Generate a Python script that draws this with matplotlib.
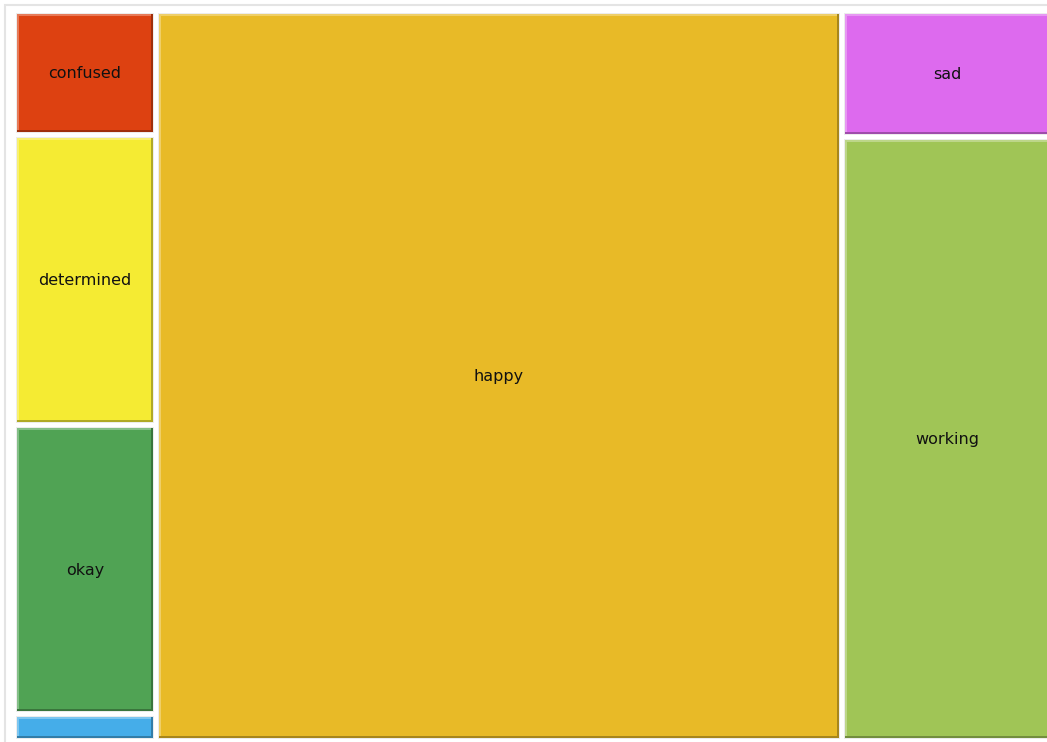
import matplotlib.pyplot as plt
from matplotlib.patches import Rectangle
import matplotlib.colors as mcolors
import numpy as np

# moods and their weights, grouped by column of the treemap
labels_left = ["confused", "determined", "okay", "calm"]
values_left = [3.5, 8.2, 8.2, 0.75]
colors_left = ["#DD4111", "#F5EB33", "#50A354", "#45ADE9"]

labels_mid = ["happy"]
values_mid = [100.0]
colors_mid = ["#E8BA27"]

labels_right = ["sad", "working"]
values_right = [5.3, 25.3]
colors_right = ["#DD6AEE", "#A0C556"]

columns = [
    (labels_left, values_left, colors_left),
    (labels_mid, values_mid, colors_mid),
    (labels_right, values_right, colors_right),
]

W, H = 1047, 742
fig = plt.figure(figsize=(W / 100, H / 100), dpi=100)
ax = fig.add_axes([0, 0, 1, 1])
ax.set_xlim(0, W)
ax.set_ylim(H, 0)
ax.axis("off")

# outer frame
ax.add_patch(Rectangle((5, 5), W + 20, H + 20, facecolor="white",
                       edgecolor="#e4e4e4", linewidth=1.5))

# treemap area
x0, y0 = 14, 11
tw, th = 1038, 730
pad = 3
bev = 2
total = sum(sum(c[1]) for c in columns)


def shade(c, f):
    r = np.array(mcolors.to_rgb(c))
    return tuple(r * f)


def tint(c, f):
    r = np.array(mcolors.to_rgb(c))
    return tuple(r + (1 - r) * f)


x = x0
for labs, vals, cols in columns:
    cw = tw * sum(vals) / total
    y = y0
    for lab, v, col in zip(labs, vals, cols):
        ch = th * v / sum(vals)
        rx, ry = x + pad, y + pad
        rw, rh = cw - 2 * pad, ch - 2 * pad
        # soft halo
        ax.add_patch(Rectangle((rx - 1, ry - 1), rw + 2, rh + 2,
                               facecolor="#ececec", edgecolor="none"))
        ax.add_patch(Rectangle((rx, ry), rw, rh, facecolor=col, edgecolor="none"))
        # bevel: light top/left, dark bottom/right
        hi = tint(col, 0.3)
        lo = shade(col, 0.72)
        ax.add_patch(Rectangle((rx, ry), rw, bev, facecolor=hi, edgecolor="none"))
        ax.add_patch(Rectangle((rx, ry), bev, rh, facecolor=hi, edgecolor="none"))
        ax.add_patch(Rectangle((rx, ry + rh - bev), rw, bev, facecolor=lo, edgecolor="none"))
        ax.add_patch(Rectangle((rx + rw - bev, ry), bev, rh, facecolor=lo, edgecolor="none"))
        if rh > 30:
            ax.text(rx + rw / 2, ry + rh / 2 + 0.5, lab, ha="center", va="center",
                    fontsize=11.5, color="#111111", family="DejaVu Sans")
        y += ch
    x += cw

fig.savefig("out.png", dpi=100)
